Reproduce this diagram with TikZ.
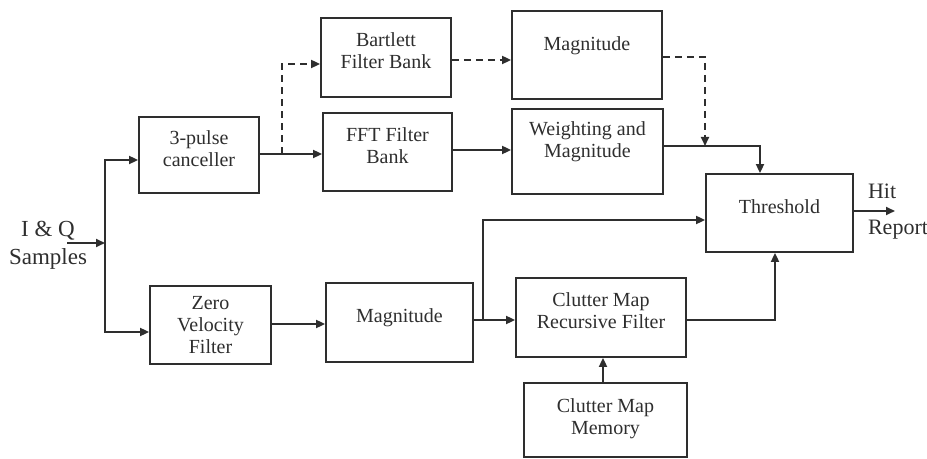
\documentclass[tikz,border=0pt]{standalone}
\usepackage{fontspec}
\setmainfont{Liberation Serif}
\usetikzlibrary{arrows.meta}
\definecolor{ink}{HTML}{2E2E2E}
\tikzset{blk/.style={draw=ink,line width=.9pt,text=ink,align=center,inner sep=0pt,text depth=6.5pt,font=\fontsize{10}{11}\selectfont},
flow/.style={ink,line width=.9pt,-{Triangle[length=4.5pt,width=4pt]}},
dsh/.style={dash pattern=on 3.5pt off 2.5pt}}
\newcommand{\blk}[7][]{\node[blk,minimum width=#5*.5pt,minimum height=#6*.5pt,#1] (#2) at (#3,#4){#7};}

\begin{document}
\begin{tikzpicture}[x=.5pt,y=-.5pt]
\useasboundingbox (0,0) rectangle (927,459);
\blk{canc}{199}{155}{120}{76}{3-pulse\\canceller}
\blk{bart}{386}{57.5}{130}{79}{Bartlett\\Filter Bank}
\blk{fft}{387.5}{152}{129}{78}{FFT Filter\\Bank}
\blk[text depth=11pt]{magt}{587}{55}{150}{88}{Magnitude}
\blk[text depth=12pt]{wgt}{587.5}{151.5}{151}{85}{Weighting and\\Magnitude}
\blk{thr}{779.5}{213}{147}{78}{Threshold}
\blk[text depth=0pt]{zvf}{210.5}{325}{121}{78}{Zero\\Velocity\\Filter}
\blk{magb}{399.5}{322.5}{147}{79}{Magnitude}
\blk{cmrf}{601}{317.5}{170}{79}{Clutter Map\\Recursive Filter}
\blk[text depth=3pt]{cmm}{605.5}{420}{163}{74}{Clutter Map\\Memory}
\node[font=\fontsize{11.5}{14}\selectfont,text=ink,align=center] (iq) at (48,245){I \& Q\\Samples};
\node[font=\fontsize{11}{18}\selectfont,text=ink,align=left,anchor=west] (hitrep) at (861,212){Hit\\Report};
\coordinate (iqout) at (67,243);\coordinate (fork) at (105,243);
\coordinate (tap) at (282,154);\coordinate (join) at (705,146);
\coordinate (tap2) at (483,320);\coordinate (hit) at (895,211);
\draw[flow] (iqout)--(fork);
\draw[flow] (fork)|-(canc.west |- 0,160);
\draw[flow] (fork)|-(zvf.west |- 0,332);
\draw[flow] (canc.east |- 0,154)--(fft.west |- 0,154);
\draw[flow,dsh] (tap)|-(bart.west |- 0,64);
\draw[flow,dsh] (bart.east |- 0,60)--(magt.west |- 0,60);
\draw[flow,dsh] (magt.east |- 0,57)-|(join);
\draw[flow] (fft.east |- 0,150)--(wgt.west |- 0,150);
\draw[flow] (wgt.east |- 0,146)-|(thr.north -| 760,0);
\draw[flow] (zvf.east |- 0,324)--(magb.west |- 0,324);
\draw[flow] (magb.east |- 0,320)--(cmrf.west |- 0,320);
\draw[flow] (tap2)|-(thr.west |- 0,220);
\draw[flow] (cmrf.east |- 0,320)-|(thr.south -| 775,0);
\draw[flow] (cmm.north -| 603,0)--(cmrf.south -| 603,0);
\draw[flow] (thr.east |- 0,211)--(hit);
\end{tikzpicture}
\end{document}
